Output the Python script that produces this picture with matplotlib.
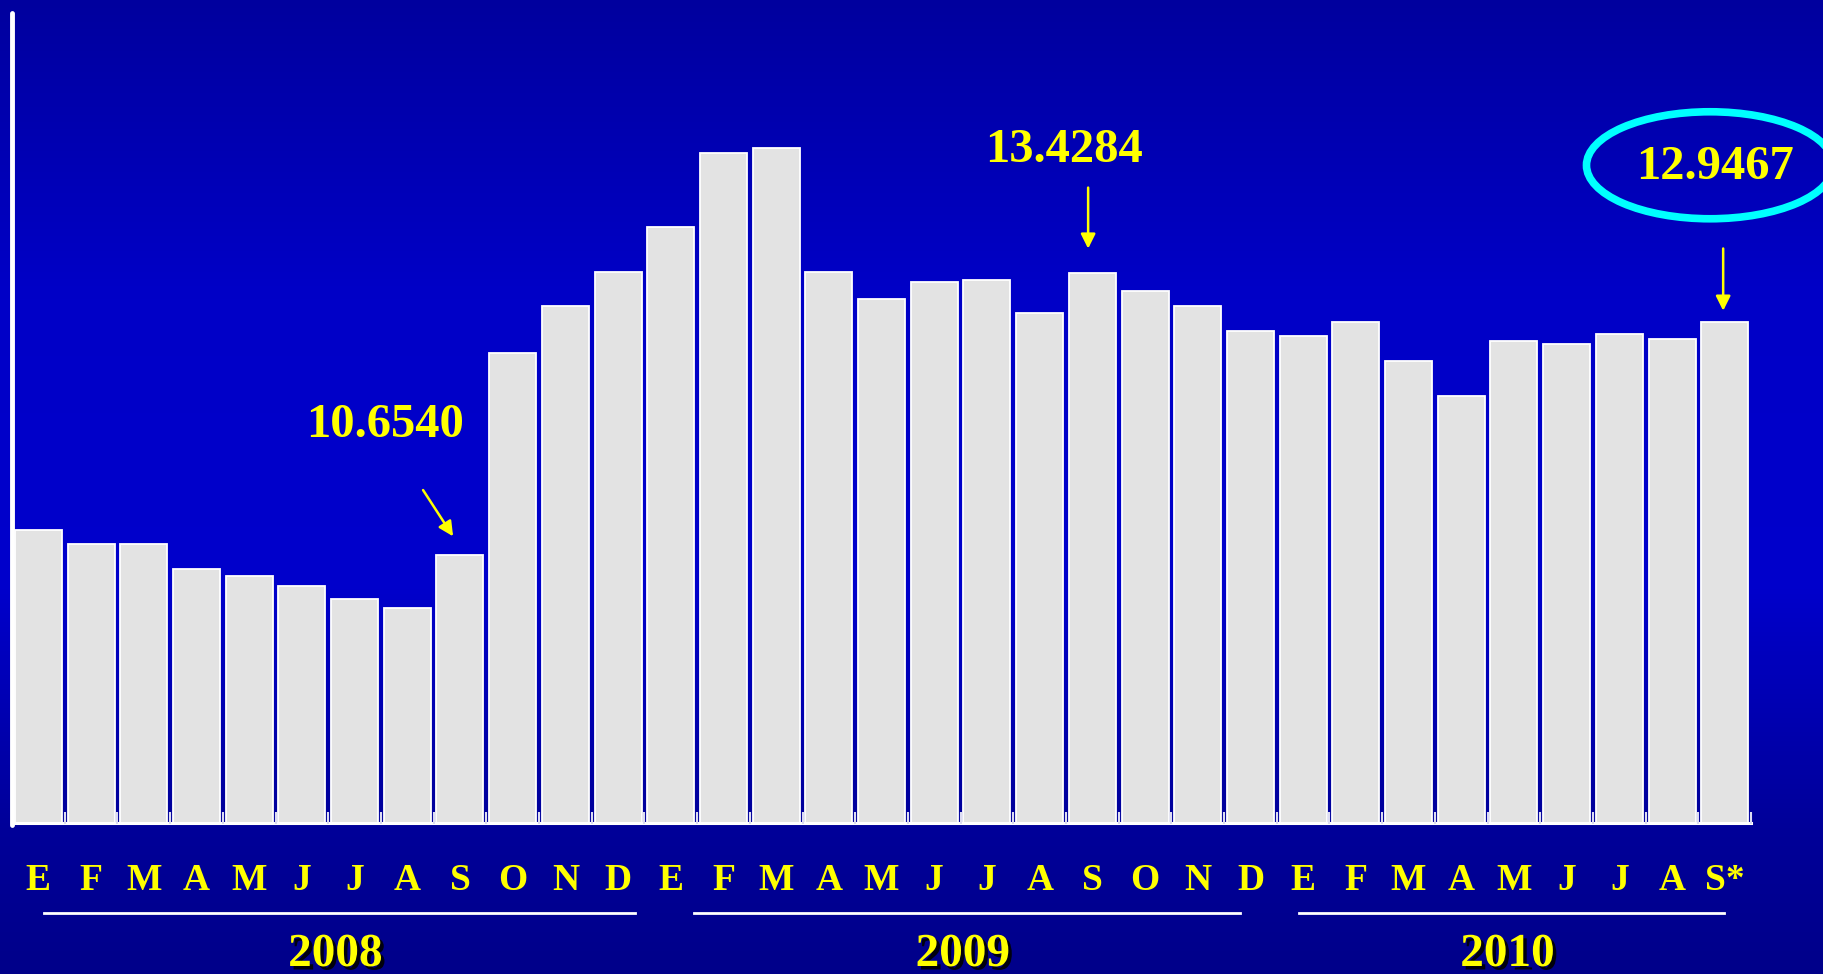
import numpy as np
import matplotlib
matplotlib.use("Agg")
import matplotlib.pyplot as plt
from matplotlib.patches import Ellipse
import matplotlib.patheffects as pe

# --- DATA ---
months = ['E', 'F', 'M', 'A', 'M', 'J', 'J', 'A', 'S', 'O', 'N', 'D',
          'E', 'F', 'M', 'A', 'M', 'J', 'J', 'A', 'S', 'O', 'N', 'D',
          'E', 'F', 'M', 'A', 'M', 'J', 'J', 'A', 'S*']
values = [10.90, 10.76, 10.76, 10.51, 10.44, 10.34, 10.22, 10.13, 10.654,
          12.64, 13.10, 13.44,
          13.88, 14.61, 14.66, 13.44, 13.17, 13.34, 13.36, 13.03, 13.4284,
          13.25, 13.10, 12.86,
          12.81, 12.95, 12.56, 12.22, 12.76, 12.73, 12.83, 12.78, 12.9467]
years = ['2008', '2009', '2010']
callout_idx = [8, 20, 32]
callout_labels = ['10.6540', '13.4284', '12.9467']

# --- STYLE ---
YELLOW = '#FFFF00'
FONT = 'Liberation Serif'
W, H = 1824, 974

fig = plt.figure(figsize=(W / 100, H / 100), dpi=100)

# background gradient (dark top, brighter middle, dark bottom)
bg = fig.add_axes([0, 0, 1, 1], zorder=-10)
yy = np.linspace(0, 1, 400)
blue = np.interp(yy, [0.0, 0.3, 0.6, 0.85, 1.0], [0.62, 0.78, 0.80, 0.60, 0.54])
grad = np.zeros((400, 1, 3))
grad[:, 0, 2] = blue
bg.imshow(grad, aspect='auto', extent=[0, 1, 0, 1], origin='upper')
bg.set_axis_off()

# main axes: left spine at x=12px, baseline at y=824px, top at y=12px
pitch = 52.7
ax = fig.add_axes([12 / W, (H - 824) / H, (W - 12) / W, (824 - 12) / H])
ax.set_facecolor('none')
ax.set_xlim(-0.5, -0.5 + (W - 12) / pitch)
ax.set_ylim(8, 16)
for s in ax.spines.values():
    s.set_visible(False)
ax.set_xticks([])
ax.set_yticks([])

x = np.arange(len(values))
ax.bar(x, values, width=0.89, color='#E3E3E3', edgecolor='white', linewidth=1.3, zorder=2)

# floor: baseline and small posts between bars
ax.plot([-0.5, len(values) - 0.5], [8.01, 8.01], color='white', lw=2.2, clip_on=False, zorder=3)
ax.vlines(np.arange(len(values) + 1) - 0.5, 8, 8.12, color='#DCDCF2', lw=1.5, zorder=3)

# y axis line
ax.plot([-0.5, -0.5], [7.99, 15.99], color='white', lw=3.5, solid_capstyle='round',
        clip_on=False, zorder=4)

# month labels
for i, m in enumerate(months):
    ax.text(i, 8 - 56 / 101.5, m, ha='center', va='center', color=YELLOW,
            fontsize=27, fontweight='bold', family=FONT, clip_on=False)

# year underlines and labels
year_spans = [(0.11, 11.32), (12.44, 22.8), (23.92, 31.99)]
for yr, (a, b) in zip(years, year_spans):
    ax.plot([a, b], [8 - 89 / 101.5] * 2, color='white', lw=2, clip_on=False)
    ax.text((a + b) / 2 - 0.08, 8 - 131 / 101.5, yr, ha='center', va='center', color=YELLOW,
            fontsize=34, fontweight='bold', family=FONT, clip_on=False,
            path_effects=[pe.SimplePatchShadow(offset=(2.5, -2.5), shadow_rgbFace='black', alpha=0.9),
                          pe.Normal()])

# callouts
text_pos = [(6.58, 11.93), (19.46, 14.64), (31.81, 14.47)]
arrow_from = [(7.30, 11.29), (19.92, 14.27), (31.97, 13.67)]
arrow_gap = [0.18, 0.24, 0.11]
tip_shift = [-0.13, -0.08, -0.03]
for k, idx in enumerate(callout_idx):
    ax.text(*text_pos[k], callout_labels[k], ha='center', va='center', color=YELLOW,
            fontsize=35, fontweight='bold', family=FONT, zorder=5)
    ax.annotate('', xy=(idx + tip_shift[k], values[idx] + arrow_gap[k]), xytext=arrow_from[k],
                arrowprops=dict(arrowstyle='-|>', color=YELLOW, lw=1.8, mutation_scale=22,
                                shrinkA=0, shrinkB=0), zorder=5)

# highlight ellipse around the latest value
ax.add_patch(Ellipse((31.72, 14.49), 247 / pitch, 107 / 101.5, fill=False,
                     edgecolor='#00FFFF', lw=5.5, clip_on=False, zorder=5))

fig.savefig('out.png', dpi=100)
